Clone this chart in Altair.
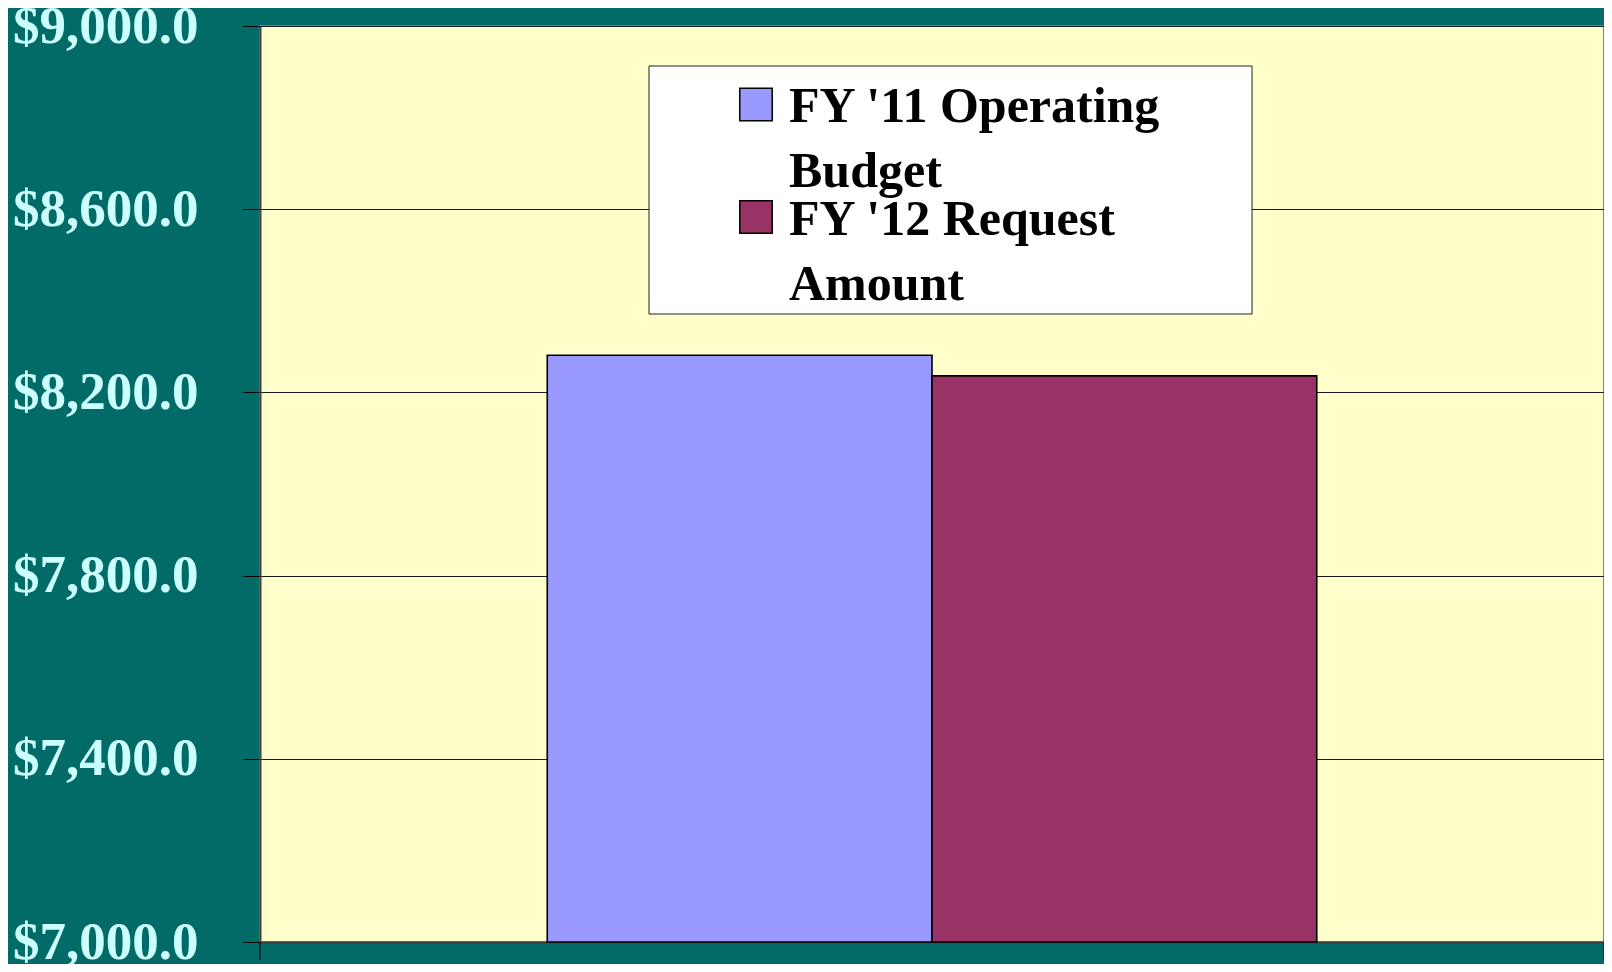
import altair as alt
import pandas as pd

# ---- data ----
series = ["FY '11 Operating Budget", "FY '12 Request Amount"]
legend_lines = ["FY '11 Operating\nBudget", "FY '12 Request\nAmount"]
values = [8281.0, 8236.0]
colors = ["#9999FF", "#993366"]
group = ["Budget", "Budget"]
y_ticks = [7000, 7400, 7800, 8200, 8600, 9000]

W, H = 1344, 916

df = pd.DataFrame({"group": group, "series": series, "value": values})

bars = alt.Chart(df).mark_bar(stroke="black", strokeWidth=1.6).encode(
    x=alt.X("group:N",
            scale=alt.Scale(paddingOuter=0.3733, paddingInner=0),
            axis=alt.Axis(labels=False, ticks=False, title=None,
                          domainColor="#404040", domainWidth=2)),
    xOffset=alt.XOffset("series:N", sort=series,
                        scale=alt.Scale(paddingInner=0, paddingOuter=0)),
    y=alt.Y("value:Q",
            scale=alt.Scale(domain=[7000, 9000], zero=False, clamp=True, nice=False),
            axis=alt.Axis(values=y_ticks, format="$,.1f", title=None,
                          labelFont="Liberation Serif", labelFontWeight="bold",
                          labelFontSize=53, labelColor="#CCFFFF", labelLimit=400,
                          labelPadding=45, labelFlush=False, labelOverlap=False,
                          labelBaseline="middle",
                          tickSize=17, tickColor="black", tickWidth=1,
                          domainColor="#404040", domainWidth=2,
                          grid=True, gridColor="#1a1a1a", gridWidth=1)),
    color=alt.Color("series:N", sort=series,
                    scale=alt.Scale(domain=series, range=colors), legend=None),
)

# bottom category-edge ticks
edge = pd.DataFrame({"e": [0]})
tick_l = alt.Chart(edge).mark_rule(color="black", strokeWidth=1).encode(
    x=alt.value(0), y=alt.value(H), y2=alt.value(H + 18))
tick_r = alt.Chart(edge).mark_rule(color="black", strokeWidth=1).encode(
    x=alt.value(W), y=alt.value(H), y2=alt.value(H + 18))

# legend box
box = alt.Chart(edge).mark_rect(fill="white", stroke="#202020", strokeWidth=1).encode(
    x=alt.value(389), x2=alt.value(992), y=alt.value(40), y2=alt.value(288))

layers = [bars, tick_l, tick_r, box]
for i, (s, lab, c) in enumerate(zip(series, legend_lines, colors)):
    d = pd.DataFrame({"series": [s], "label": [lab]})
    dy = i * 112.5
    sym = alt.Chart(d).mark_square(size=1050, fill=c, stroke="black",
                                   strokeWidth=1.5, opacity=1).encode(
        x=alt.value(496), y=alt.value(78.5 + dy))
    txt = alt.Chart(d).mark_text(align="left", baseline="alphabetic",
                                 font="Liberation Serif", fontWeight="bold",
                                 fontSize=50, lineBreak="\n", lineHeight=65,
                                 color="black").encode(
        x=alt.value(529), y=alt.value(96 + dy), text="label:N")
    layers += [sym, txt]

chart = alt.layer(*layers).properties(
    width=W, height=H,
    autosize=alt.AutoSizeParams(type="none"),
    padding={"left": 252, "top": 18, "right": 0, "bottom": 22},
).configure(
    background="#036B67",
).configure_view(
    fill="#FFFFCC", stroke="#808080", strokeWidth=2,
)

chart.save("out.html", embed_options={"renderer": "svg", "actions": False})
